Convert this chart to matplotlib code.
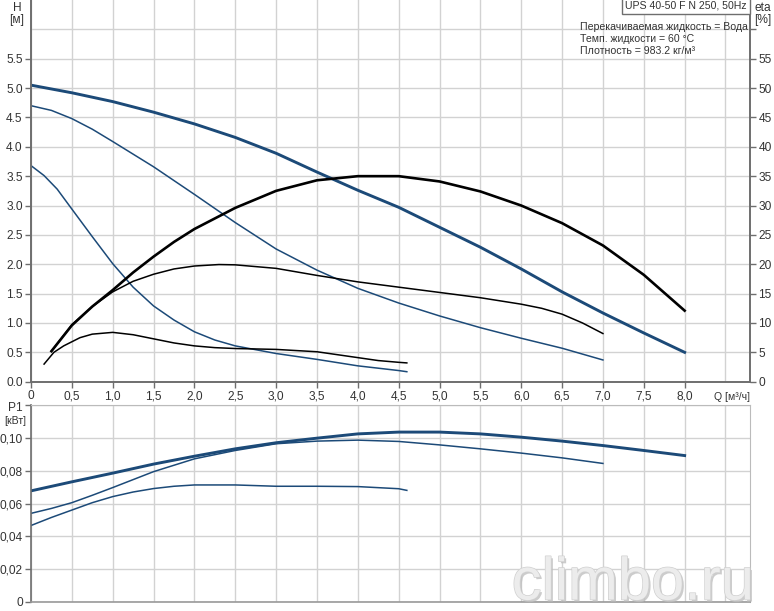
import matplotlib
matplotlib.use("Agg")
import matplotlib.pyplot as plt
import matplotlib.patheffects as pe
from matplotlib.ticker import FixedLocator, FixedFormatter

# ---- data ----
q_h3 = [0, 0.5, 1.0, 1.5, 2.0, 2.5, 3.0, 3.5, 4.0, 4.5, 5.0, 5.5, 6.0, 6.5, 7.0, 7.5, 8.0]
h3 = [5.05, 4.92, 4.77, 4.59, 4.39, 4.16, 3.89, 3.57, 3.26, 2.97, 2.63, 2.29, 1.92, 1.53, 1.17, 0.83, 0.50]

q_h2 = [0, 0.25, 0.5, 0.75, 1.0, 1.5, 2.0, 2.5, 3.0, 3.5, 4.0, 4.5, 5.0, 5.5, 6.0, 6.5, 7.0]
h2 = [4.70, 4.62, 4.48, 4.30, 4.09, 3.66, 3.19, 2.71, 2.26, 1.90, 1.59, 1.34, 1.12, 0.92, 0.74, 0.57, 0.37]

q_h1 = [0, 0.16, 0.32, 0.5, 0.75, 1.0, 1.25, 1.5, 1.75, 2.0, 2.25, 2.5, 3.0, 3.5, 4.0, 4.5, 4.6]
h1 = [3.68, 3.51, 3.28, 2.94, 2.47, 2.01, 1.61, 1.29, 1.05, 0.85, 0.71, 0.61, 0.48, 0.38, 0.27, 0.19, 0.17]

q_e3 = [0.25, 0.5, 0.75, 1.0, 1.25, 1.5, 1.75, 2.0, 2.5, 3.0, 3.5, 4.0, 4.5, 5.0, 5.5, 6.0, 6.5, 7.0, 7.5, 8.0]
eta3 = [5.2, 9.6, 12.8, 15.6, 18.6, 21.3, 23.8, 26.0, 29.6, 32.5, 34.3, 35.0, 35.0, 34.1, 32.4, 30.0,
        27.0, 23.2, 18.2, 12.1]

q_e2 = [0.25, 0.5, 0.75, 1.0, 1.25, 1.5, 1.75, 2.0, 2.3, 2.5, 3.0, 3.5, 4.0, 4.5, 5.0, 5.5, 6.0,
        6.25, 6.5, 6.75, 7.0]
eta2 = [5.2, 9.7, 12.8, 15.3, 17.1, 18.3, 19.2, 19.7, 19.95, 19.9, 19.3, 18.1, 17.0, 16.1, 15.2,
        14.3, 13.2, 12.5, 11.5, 10.0, 8.2]

q_e1 = [0.16, 0.28, 0.4, 0.5, 0.6, 0.75, 1.0, 1.25, 1.5, 1.75, 2.0, 2.25, 2.5, 3.0, 3.5, 3.75, 4.0,
        4.25, 4.5, 4.6]
eta1 = [3.0, 5.0, 6.1, 6.8, 7.5, 8.1, 8.4, 8.0, 7.3, 6.6, 6.1, 5.8, 5.65, 5.5, 5.1, 4.6, 4.1, 3.6,
        3.3, 3.2]

q_p3 = [0, 0.5, 1.0, 1.5, 2.0, 2.5, 3.0, 3.5, 4.0, 4.5, 5.0, 5.5, 6.0, 6.5, 7.0, 7.5, 8.0]
p3 = [0.0677, 0.0732, 0.0785, 0.0840, 0.0888, 0.0933, 0.0970, 0.0998, 0.1024, 0.1035, 0.1035,
      0.1024, 0.1004, 0.0980, 0.0953, 0.0923, 0.0892]

q_p2 = [0, 0.25, 0.5, 0.75, 1.0, 1.5, 2.0, 2.5, 3.0, 3.5, 4.0, 4.5, 5.0, 5.5, 6.0, 6.5, 7.0]
p2 = [0.0540, 0.0570, 0.0605, 0.0650, 0.0697, 0.0794, 0.0872, 0.0923, 0.0964, 0.0980, 0.0986,
      0.0978, 0.0957, 0.0933, 0.0907, 0.0878, 0.0844]

q_p1 = [0, 0.25, 0.5, 0.75, 1.0, 1.25, 1.5, 1.75, 2.0, 2.5, 3.0, 3.5, 4.0, 4.5, 4.6]
p1 = [0.0466, 0.0515, 0.0560, 0.0605, 0.0642, 0.0670, 0.0691, 0.0705, 0.0713, 0.0713, 0.0705,
      0.0705, 0.0703, 0.0690, 0.0680]

q_ticks = [0, 0.5, 1.0, 1.5, 2.0, 2.5, 3.0, 3.5, 4.0, 4.5, 5.0, 5.5, 6.0, 6.5, 7.0, 7.5, 8.0]
q_labels = ["0", "0,5", "1,0", "1,5", "2,0", "2,5", "3,0", "3,5", "4,0", "4,5", "5,0", "5,5",
            "6,0", "6,5", "7,0", "7,5", "8,0"]
h_ticks = [0, 0.5, 1.0, 1.5, 2.0, 2.5, 3.0, 3.5, 4.0, 4.5, 5.0, 5.5]
h_labels = ["0.0", "0.5", "1.0", "1.5", "2.0", "2.5", "3.0", "3.5", "4.0", "4.5", "5.0", "5.5"]
eta_ticks = [0, 5, 10, 15, 20, 25, 30, 35, 40, 45, 50, 55]
eta_labels = ["0", "5", "10", "15", "20", "25", "30", "35", "40", "45", "50", "55"]
p_ticks = [0, 0.02, 0.04, 0.06, 0.08, 0.10]
p_labels = ["0", "0,02", "0,04", "0,06", "0,08", "0,10"]

title = "UPS 40-50 F N 250, 50Hz"
info = ["Перекачиваемая жидкость = Вода", "Темп. жидкости = 60 °C", "Плотность = 983.2 кг/м³"]

# ---- styling ----
plt.rcParams['font.family'] = ['Liberation Sans', 'DejaVu Sans']
BLUE = "#1c4a78"
GRID = "#d2d2d2"
AX = "#6e6e6e"
TXT = "#333333"
FS = 8.6      # tick labels
FT = 7.6      # annotation texts

W, H = 774, 611
fig = plt.figure(figsize=(W / 100, H / 100), dpi=100)

def frac(x0, y0, x1, y1):
    return [x0 / W, 1 - y1 / H, (x1 - x0) / W, (y1 - y0) / H]

ax = fig.add_axes(frac(31, 0, 750, 381.7))
ax.set_xlim(0, 8.8)
ax.set_ylim(0, 6.5)
ax2 = ax.twinx()
ax2.set_ylim(0, 65)

ax.xaxis.set_major_locator(FixedLocator(q_ticks))
ax.xaxis.set_major_formatter(FixedFormatter(q_labels))
ax.xaxis.set_minor_locator(FixedLocator([8.5]))
ax.yaxis.set_major_locator(FixedLocator(h_ticks))
ax.yaxis.set_major_formatter(FixedFormatter(h_labels))
ax.yaxis.set_minor_locator(FixedLocator([6.0]))
ax2.yaxis.set_major_locator(FixedLocator(eta_ticks + [60]))
ax2.yaxis.set_major_formatter(FixedFormatter(eta_labels + [""]))

ax.grid(True, which='both', color=GRID, lw=1.0)
ax.set_axisbelow(True)
ax.tick_params(which='minor', length=0)
for a in (ax, ax2):
    a.spines['top'].set_visible(False)
    for s in ('left', 'bottom', 'right'):
        a.spines[s].set_color(AX)
        a.spines[s].set_linewidth(1.2)
    a.tick_params(which='major', colors=AX, labelcolor=TXT, labelsize=FS, length=4, width=1, pad=2)

ax.plot(q_h3, h3, color=BLUE, lw=2.1)
ax.plot(q_h2, h2, color=BLUE, lw=1.1)
ax.plot(q_h1, h1, color=BLUE, lw=1.1)
ax2.plot(q_e3, eta3, color="black", lw=1.9)
ax2.plot(q_e2, eta2, color="black", lw=1.1)
ax2.plot(q_e1, eta1, color="black", lw=1.1)

ax.text(8.36, -0.17, "Q [м³/ч]", fontsize=FT, color=TXT, ha='left', va='top')
fig.text(17 / W, 1 - 8 / H, "H", fontsize=FS, color=TXT, ha='center', va='center')
fig.text(17 / W, 1 - 20 / H, "[м]", fontsize=FS, color=TXT, ha='center', va='center')
fig.text(763 / W, 1 - 8 / H, "eta", fontsize=FS, color=TXT, ha='center', va='center')
fig.text(763 / W, 1 - 20 / H, "[%]", fontsize=FS, color=TXT, ha='center', va='center')

fig.text(686 / W, 1 - 6 / H, title, fontsize=FT, color=TXT, ha='center', va='center',
         bbox=dict(boxstyle='square,pad=0.3', fc='white', ec=AX, lw=1.0))
for i, line in enumerate(info):
    fig.text(580 / W, 1 - (27 + i * 12) / H, line, fontsize=FT, color=TXT, ha='left', va='center')

# ---- power panel ----
bx = fig.add_axes(frac(31, 405, 750, 602))
bx.set_xlim(0, 8.8)
bx.set_ylim(0, 0.12)
bx.xaxis.set_major_locator(FixedLocator(q_ticks + [8.5]))
bx.xaxis.set_major_formatter(FixedFormatter([""] * (len(q_ticks) + 1)))
bx.tick_params(axis='x', length=0)
bx.yaxis.set_major_locator(FixedLocator(p_ticks + [0.12]))
bx.yaxis.set_major_formatter(FixedFormatter(p_labels + [""]))
bx.tick_params(axis='y', colors=AX, labelcolor=TXT, labelsize=FS, length=4, width=1, pad=2)
bx.grid(True, color=GRID, lw=1.0)
bx.set_axisbelow(True)
bx.spines['left'].set_color(AX)
bx.spines['left'].set_linewidth(1.2)
bx.spines['bottom'].set_color("#999999")
bx.spines['bottom'].set_linewidth(1.2)
bx.spines['top'].set_color("#bbbbbb")
bx.spines['right'].set_color("#bbbbbb")

bx.plot(q_p3, p3, color=BLUE, lw=2.1)
bx.plot(q_p2, p2, color=BLUE, lw=1.1)
bx.plot(q_p1, p1, color=BLUE, lw=1.1)

fig.text(15 / W, 1 - 408 / H, "P1", fontsize=FS, color=TXT, ha='center', va='center')
fig.text(15 / W, 1 - 421 / H, "[кВт]", fontsize=FT, color=TXT, ha='center', va='center')

# watermark
fig.text(633 / W, 1 - 584 / H, "climbo.ru", fontsize=43, color="#ececec", ha='center',
         va='center',
         path_effects=[pe.withSimplePatchShadow(offset=(1.5, -1.5), shadow_rgbFace="#c0c0c0", alpha=0.8),
                       pe.withStroke(linewidth=1.0, foreground="#d0d0d0")])

fig.savefig("out.png", dpi=100)
